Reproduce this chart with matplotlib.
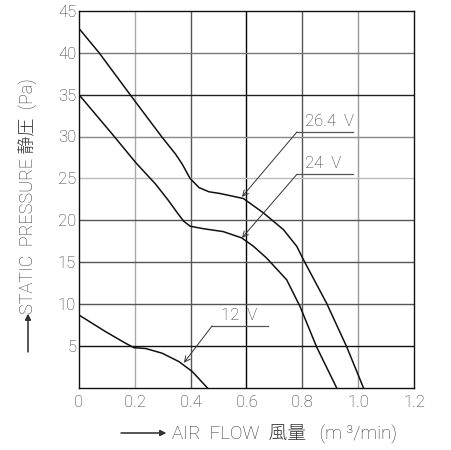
import matplotlib
matplotlib.use("Agg")
import matplotlib.pyplot as plt

plt.rcParams['font.family'] = ['Roboto', 'Noto Sans CJK JP', 'DejaVu Sans']

# curve values (air flow m3/min, static pressure Pa)
flow_264 = [0.0, 0.072, 0.191, 0.298, 0.346, 0.370, 0.398, 0.430, 0.466, 0.505,
            0.589, 0.660, 0.732, 0.780, 0.804, 0.887, 0.959, 1.019]
pres_264 = [42.9, 40.0, 34.65, 29.9, 27.9, 26.7, 25.0, 23.9, 23.4, 23.2,
            22.6, 20.9, 18.9, 16.9, 15.3, 10.1, 4.9, 0.0]

flow_24 = [0.0, 0.119, 0.203, 0.275, 0.322, 0.350, 0.375, 0.398, 0.445, 0.517,
           0.583, 0.625, 0.672, 0.744, 0.792, 0.851, 0.923]
pres_24 = [35.0, 30.3, 26.9, 24.3, 22.3, 21.0, 19.9, 19.3, 19.0, 18.65,
           17.9, 16.9, 15.5, 12.9, 9.7, 4.9, 0.0]

flow_12 = [0.0, 0.096, 0.167, 0.197, 0.239, 0.298, 0.358, 0.406, 0.46]
pres_12 = [8.7, 6.7, 5.33, 4.8, 4.7, 4.14, 3.14, 1.95, 0.0]

x_ticks = [0, 0.2, 0.4, 0.6, 0.8, 1.0, 1.2]
x_labels = ['0', '0.2', '0.4', '0.6', '0.8', '1.0', '1.2']
y_ticks = [5, 10, 15, 20, 25, 30, 35, 40, 45]

# label text, arrow tip (x, y), underline start x, end x, y
labels = [
    ('26.4  V', 0.584, 22.8, 0.781, 0.982, 30.55),
    ('24  V', 0.584, 17.9, 0.781, 0.982, 25.5),
    ('12  V', 0.376, 3.0, 0.477, 0.677, 7.4),
]

fig = plt.figure(figsize=(4.51, 4.50), dpi=100)
ax = fig.add_axes([0.175, 0.138, 0.743, 0.838])

vcols = ['#aaaaaa', '#555555', '#000000', '#555555', '#999999']
for x, c in zip(x_ticks[1:-1], vcols):
    ax.axvline(x, color=c, lw=1.0, zorder=1)
hcols = ['#111111', '#555555', '#555555', '#555555', '#bbbbbb', '#888888', '#222222', '#777777']
for y, c in zip(y_ticks[:-1], hcols):
    ax.axhline(y, color=c, lw=1.0, zorder=1)

for fx, py in [(flow_264, pres_264), (flow_24, pres_24), (flow_12, pres_12)]:
    ax.plot(fx, py, color='#111111', lw=1.1, zorder=3, solid_joinstyle='round')

for text, tx, ty, x0, x1, yl in labels:
    ax.plot([x0, x1], [yl, yl], color='#555555', lw=0.9, zorder=3)
    ax.annotate('', xy=(tx, ty), xytext=(x0, yl),
                arrowprops=dict(arrowstyle='->', color='#333333', lw=0.7,
                                mutation_scale=10, shrinkA=0, shrinkB=0), zorder=4)
    ax.text(x0 + 0.03, yl + 0.4, text, fontsize=12, color='#333333',
            fontweight='light', ha='left', va='bottom')

ax.set_xlim(0, 1.2)
ax.set_ylim(0, 45)
ax.set_xticks(x_ticks)
ax.set_xticklabels(x_labels)
ax.set_yticks(y_ticks)
ax.tick_params(length=0, labelsize=12, labelcolor='#333333')
ax.tick_params(axis='x', pad=5)
ax.tick_params(axis='y', pad=2)
for lab in ax.get_xticklabels() + ax.get_yticklabels():
    lab.set_fontweight('light')
ax.get_xticklabels()[0].set_x(-0.039)
for s in ax.spines.values():
    s.set_color('#111111')
    s.set_linewidth(1.0)

arrow = dict(arrowstyle='-|>', color='#333333', lw=0.8, mutation_scale=9,
             shrinkA=0, shrinkB=0)
fig.add_artist(plt.annotate('', xy=(166, 17), xytext=(121, 17),
                            xycoords='figure pixels', arrowprops=arrow))
fig.text(172 / 451, 17 / 450, 'AIR  FLOW  風量   (m ³/min)', fontsize=13.5,
         color='#333333', fontweight='light', ha='left', va='center')
fig.add_artist(plt.annotate('', xy=(28, 136), xytext=(28, 98),
                            xycoords='figure pixels', arrowprops=arrow))
fig.text(28 / 451, 254 / 450, 'STATIC  PRESSURE 静圧  (Pa)', fontsize=13,
         color='#333333', fontweight='light', rotation=90, ha='center', va='center')

fig.savefig('out.png', dpi=100)
